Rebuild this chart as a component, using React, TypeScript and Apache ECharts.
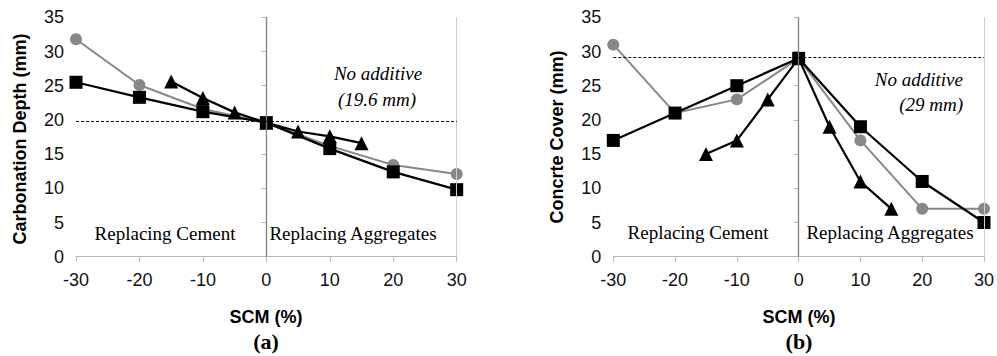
import React, { useEffect, useRef } from "react";
import * as echarts from "echarts";

const xMain = [-30, -20, -10, 0, 10, 20, 30];
const xTri = [-15, -10, -5, 0, 5, 10, 15];

const aCircle = [31.8, 25.1, 21.6, 19.6, 16.2, 13.4, 12.1];
const aSquare = [25.5, 23.3, 21.2, 19.6, 15.8, 12.4, 9.8];
const aTriangle = [25.6, 23.2, 21.1, 19.6, 18.3, 17.6, 16.6];
const aRef = 19.8;

const bCircle = [31, 21, 23, 29, 17, 7, 7];
const bSquare = [17, 21, 25, 29, 19, 11, 5];
const bTriangle = [15, 17, 23, 29, 19, 11, 7];
const bRef = 29.2;

const pair = (xs: number[], ys: number[]) => xs.map((x, i) => [x, ys[i]]);

const SANS = "'Liberation Sans', Arial, sans-serif";
const SERIF = "'Liberation Serif', 'Times New Roman', serif";

export default function App() {
  const ref = useRef<HTMLDivElement>(null);
  useEffect(() => {
    if (!ref.current) return;
    const chart = echarts.init(ref.current, undefined, { renderer: "svg" });

    const grids = [
      { left: 76, top: 17.3, width: 380.7, height: 239.4 },
      { left: 613.3, top: 17.3, width: 371.7, height: 239.4 },
    ];

    const xAxisFor = (gi: number) => ({
      type: "value",
      gridIndex: gi,
      min: -30,
      max: 30,
      interval: 10,
      axisLine: { show: true, onZero: false, lineStyle: { color: "#b8b8b8", width: 1 } },
      axisTick: { show: true, inside: false, length: 5, lineStyle: { color: "#b8b8b8" } },
      axisLabel: { fontFamily: SANS, fontSize: 18, color: "#111", margin: 14 },
      splitLine: { show: false },
    });
    const yAxisFor = (gi: number) => ({
      type: "value",
      gridIndex: gi,
      min: 0,
      max: 35,
      interval: 5,
      axisLine: { show: true, lineStyle: { color: "#b8b8b8", width: 1 } },
      axisTick: { show: true, inside: false, length: 5, lineStyle: { color: "#b8b8b8" } },
      axisLabel: { fontFamily: SANS, fontSize: 18, color: "#111", margin: 12 },
      splitLine: { show: false },
    });

    const markLinesFor = (refVal: number) => ({
      silent: true,
      symbol: "none",
      label: { show: false },
      data: [
        { xAxis: 30, lineStyle: { color: "#cfcfcf", width: 1, type: "solid" } },
        { xAxis: 0, lineStyle: { color: "#808080", width: 1.3, type: "solid" } },
        { yAxis: refVal, lineStyle: { color: "#000", width: 1, type: [3, 2] } },
      ],
    });

    const mk = (gi: number, kind: string, data: number[][], extra: any = {}) => {
      const gray = kind === "circle";
      return {
        type: "line",
        xAxisIndex: gi,
        yAxisIndex: gi,
        data,
        symbol: kind === "square" ? "rect" : kind,
        symbolSize: kind === "circle" ? 12 : kind === "square" ? 13 : 14,
        showAllSymbol: true,
        z: gray ? 2 : kind === "triangle" ? 3 : 4,
        lineStyle: { color: gray ? "#888888" : "#000", width: gray ? 2 : 2.2 },
        itemStyle: { color: gray ? "#888888" : "#000", borderWidth: 0 },
        ...extra,
      };
    };

    const text = (x: number, y: number, t: string, font: any, extra: any = {}) => ({
      type: "text",
      x,
      y,
      silent: true,
      ...extra,
      style: {
        text: t,
        fill: "#000",
        align: "center",
        verticalAlign: "middle",
        ...font,
        ...(extra.style || {}),
      },
    });

    const axisTitle = { fontFamily: SANS, fontSize: 18, fontWeight: "bold" };
    const panel = { fontFamily: SERIF, fontSize: 22, fontWeight: "bold" };
    const note = { fontFamily: SERIF, fontSize: 19 };
    const noteIt = { fontFamily: SERIF, fontSize: 19, fontStyle: "italic" };

    chart.setOption({
      animation: false,
      backgroundColor: "#fff",
      grid: grids,
      xAxis: [xAxisFor(0), xAxisFor(1)],
      yAxis: [yAxisFor(0), yAxisFor(1)],
      series: [
        mk(0, "circle", pair(xMain, aCircle), { markLine: markLinesFor(aRef) }),
        mk(0, "triangle", pair(xTri, aTriangle)),
        mk(0, "square", pair(xMain, aSquare)),
        mk(1, "circle", pair(xMain, bCircle), { markLine: markLinesFor(bRef) }),
        mk(1, "triangle", pair(xTri, bTriangle)),
        mk(1, "square", pair(xMain, bSquare)),
      ],
      graphic: [
        text(20, 139, "Carbonation Depth (mm)", axisTitle, { rotation: Math.PI / 2 }),
        text(557, 137, "Concrte Cover (mm)", axisTitle, { rotation: Math.PI / 2 }),
        text(266, 317, "SCM (%)", axisTitle),
        text(799, 317, "SCM (%)", axisTitle),
        text(266, 341, "(a)", panel),
        text(799, 341, "(b)", panel),
        text(165, 233, "Replacing Cement", note),
        text(353, 233, "Replacing Aggregates", note),
        text(698, 232, "Replacing Cement", note),
        text(890, 232, "Replacing Aggregates", note),
        text(378, 73, "No additive", noteIt),
        text(377, 99, "(19.6 mm)", noteIt),
        text(963, 79, "No additive", noteIt, { style: { align: "right" } }),
        text(963, 104, "(29 mm)", noteIt, { style: { align: "right" } }),
      ],
    });
    return () => chart.dispose();
  }, []);
  return (
    <div
      ref={ref}
      style={{ position: "fixed", left: 0, top: 0, width: 997, height: 356, background: "#fff" }}
    />
  );
}
